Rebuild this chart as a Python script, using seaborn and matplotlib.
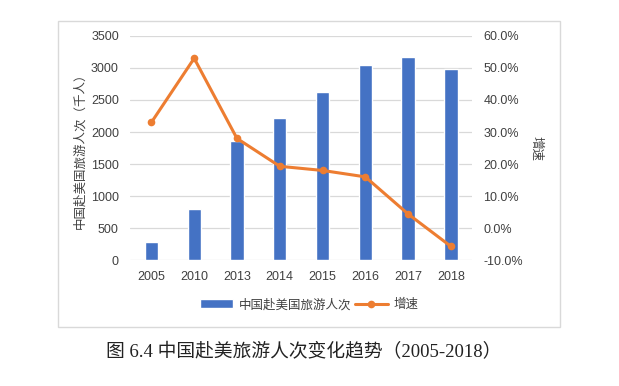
import numpy as np
import pandas as pd
import seaborn as sns
import matplotlib.pyplot as plt
from matplotlib.patches import Rectangle
from matplotlib.ticker import FuncFormatter

# 数据
years = ['2005', '2010', '2013', '2014', '2015', '2016', '2017', '2018']
visitors = [280, 800, 1865, 2220, 2625, 3047, 3172, 2985]  # 千人
growth = [33.0, 53.0, 28.0, 19.3, 18.0, 16.0, 4.4, -5.7]  # %

left_ticks = [0, 500, 1000, 1500, 2000, 2500, 3000, 3500]
right_ticks = [-10, 0, 10, 20, 30, 40, 50, 60]

bar_color = '#4472C4'
line_color = '#ED7D31'
grid_color = '#D9D9D9'
text_color = '#404040'

sns.set_theme(style='white')
plt.rcParams['font.family'] = ['Liberation Sans', 'Noto Sans CJK SC', 'DejaVu Sans']

df = pd.DataFrame({'年份': years, '人次': visitors, '增速': growth})

fig = plt.figure(figsize=(6.19, 3.86), dpi=100)
fig.patch.set_facecolor('white')

# 图表外框
frame = Rectangle((0.094, 0.153), 0.811, 0.793, transform=fig.transFigure,
                  fill=False, edgecolor='#D9D9D9', linewidth=1.0)
fig.add_artist(frame)

ax = fig.add_axes([0.210, 0.326, 0.553, 0.581])
sns.barplot(data=df, x='年份', y='人次', color=bar_color, width=0.31,
            saturation=1, ax=ax, label='中国赴美国旅游人次')
ax.set_ylim(0, 3500)
ax.set_yticks(left_ticks)
ax.set_xlim(-0.5, len(years) - 0.5)
ax.grid(axis='y', color=grid_color, linewidth=0.9)
ax.set_axisbelow(True)
for s in ax.spines.values():
    s.set_visible(False)
ax.tick_params(axis='both', length=0, labelsize=9, colors=text_color)
ax.tick_params(axis='y', pad=8)
ax.tick_params(axis='x', pad=8)
ax.set_xlabel('')
ax.set_ylabel('中国赴美国旅游人次（千人）', fontsize=9, color=text_color, labelpad=3)

ax2 = ax.twinx()
sns.lineplot(x=np.arange(len(years)), y=growth, ax=ax2, color=line_color,
             linewidth=2.2, marker='o', markersize=5.5, markeredgewidth=0,
             label='增速', legend=False)
ax2.set_ylim(-10, 60)
ax2.set_yticks(right_ticks)
ax2.yaxis.set_major_formatter(FuncFormatter(lambda v, p: f'{v:.1f}%'))
for s in ax2.spines.values():
    s.set_visible(False)
ax2.tick_params(axis='y', length=0, labelsize=9, colors=text_color, pad=8)
ax2.set_ylabel('增速', fontsize=9, color=text_color, rotation=270, labelpad=14)

# 图例
h1, l1 = ax.get_legend_handles_labels()
h2, l2 = ax2.get_legend_handles_labels()
if ax.get_legend() is not None:
    ax.get_legend().remove()
fig.legend(h1 + h2, l1 + l2, loc='center', bbox_to_anchor=(0.5, 0.21), ncol=2,
           frameon=False, fontsize=9, handlelength=2.6, handletextpad=0.5,
           columnspacing=0.3, labelcolor=text_color)

fig.text(0.49, 0.088, '图 6.4 中国赴美旅游人次变化趋势（2005-2018）', ha='center', va='center',
         fontsize=13.5, color='#222222', family=['Liberation Serif', 'Noto Sans CJK SC'])

fig.savefig('out.png', dpi=100)
